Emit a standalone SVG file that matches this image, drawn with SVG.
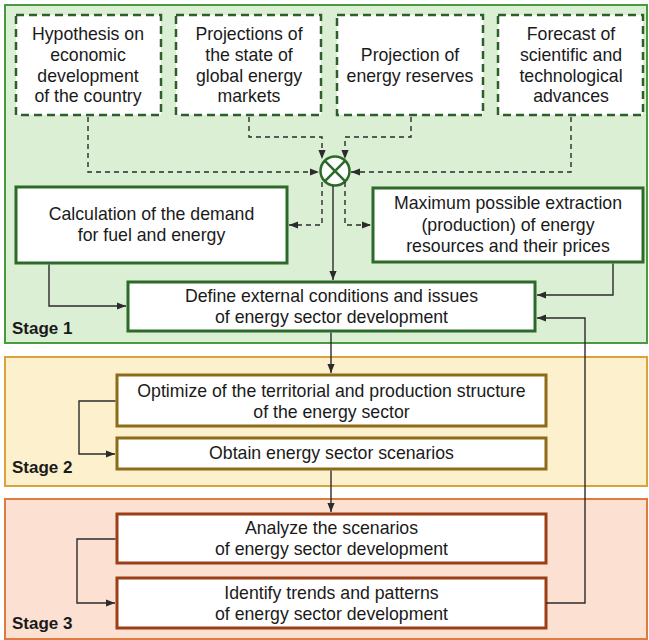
<svg xmlns="http://www.w3.org/2000/svg" width="649" height="640" viewBox="0 0 649 640">
  <defs>
    <marker id="arr" viewBox="0 0 10 10" refX="10" refY="5" markerWidth="9" markerHeight="9" markerUnits="userSpaceOnUse" orient="auto">
      <path d="M0,1 L10,5 L0,9 z" fill="#2b2b2b"/>
    </marker>
    <style>
      text { font-family: "Liberation Sans", Arial, sans-serif; font-size: 17.7px; fill: #1a1a1a; text-anchor: middle; }
      .stage { font-weight: bold; text-anchor: start; font-size: 17px; }
      .g-in { stroke: #2c5f29; stroke-width: 2.5; stroke-dasharray: 8 5; fill: #ffffff; }
      .g-box { stroke: #2c6a29; stroke-width: 3; fill: #ffffff; }
      .y-box { stroke: #8d6b18; stroke-width: 3; fill: #ffffff; }
      .o-box { stroke: #9c3f16; stroke-width: 3; fill: #ffffff; }
      .line { fill: none; stroke: #2b2b2b; stroke-width: 1.4; }
      .dash { fill: none; stroke: #2b2b2b; stroke-width: 1.4; stroke-dasharray: 5 4; }
    </style>
  </defs>

  <!-- stage panels -->
  <g id="stage1">
    <rect x="5" y="5" width="642" height="338" fill="#dbefd4" stroke="#4a9a40" stroke-width="2"/>
    <text class="stage" x="12" y="334">Stage 1</text>
  </g>
  <g id="stage2">
    <rect x="5" y="357" width="642" height="129" fill="#fdf1cd" stroke="#d9a33a" stroke-width="2"/>
    <text class="stage" x="12" y="473">Stage 2</text>
  </g>
  <g id="stage3">
    <rect x="5" y="499" width="642" height="140" fill="#fce1d3" stroke="#e07b40" stroke-width="2"/>
    <text class="stage" x="12" y="629">Stage 3</text>
  </g>

  <!-- input forecasts -->
  <g id="hypothesis">
    <rect class="g-in" x="16" y="15" width="145" height="100"/>
    <text x="88" y="40">Hypothesis on</text>
    <text x="88" y="61">economic</text>
    <text x="88" y="81.5">development</text>
    <text x="88" y="102">of the country</text>
  </g>
  <g id="markets">
    <rect class="g-in" x="176" y="15" width="145" height="100"/>
    <text x="249" y="40">Projections of</text>
    <text x="249" y="61">the state of</text>
    <text x="249" y="81.5">global energy</text>
    <text x="249" y="102">markets</text>
  </g>
  <g id="reserves">
    <rect class="g-in" x="337" y="15" width="146" height="100"/>
    <text x="410" y="61">Projection of</text>
    <text x="410" y="81.5">energy reserves</text>
  </g>
  <g id="advances">
    <rect class="g-in" x="498" y="15" width="145" height="100"/>
    <text x="571" y="40">Forecast of</text>
    <text x="571" y="61">scientific and</text>
    <text x="571" y="81.5">technological</text>
    <text x="571" y="102">advances</text>
  </g>

  <!-- summing junction -->
  <g id="junction">
    <circle cx="335" cy="171" r="14.5" fill="#ffffff" stroke="#2c6a29" stroke-width="2.5"/>
    <path d="M324.7,160.7 L345.3,181.3 M345.3,160.7 L324.7,181.3" stroke="#2c6a29" stroke-width="2.5"/>
  </g>

  <g id="demand">
    <rect class="g-box" x="16" y="187" width="271" height="76"/>
    <text x="151.5" y="220">Calculation of the demand</text>
    <text x="151.5" y="241">for fuel and energy</text>
  </g>
  <g id="extraction">
    <rect class="g-box" x="373" y="188" width="270" height="74"/>
    <text x="508" y="209">Maximum possible extraction</text>
    <text x="508" y="230.5">(production) of energy</text>
    <text x="508" y="252">resources and their prices</text>
  </g>
  <g id="define">
    <rect class="g-box" x="128" y="282" width="407" height="49"/>
    <text x="331.5" y="301.5">Define external conditions and issues</text>
    <text x="331.5" y="323">of energy sector development</text>
  </g>

  <g id="optimize">
    <rect class="y-box" x="117" y="375" width="429" height="51"/>
    <text x="331.5" y="396.5">Optimize of the territorial and production structure</text>
    <text x="331.5" y="417.5">of the energy sector</text>
  </g>
  <g id="scenarios">
    <rect class="y-box" x="117" y="438" width="429" height="31"/>
    <text x="331.5" y="459">Obtain energy sector scenarios</text>
  </g>

  <g id="analyze">
    <rect class="o-box" x="117" y="514" width="429" height="49"/>
    <text x="331.5" y="534">Analyze the scenarios</text>
    <text x="331.5" y="555">of energy sector development</text>
  </g>
  <g id="identify">
    <rect class="o-box" x="117" y="578" width="429" height="50"/>
    <text x="331.5" y="598.5">Identify trends and patterns</text>
    <text x="331.5" y="620">of energy sector development</text>
  </g>

  <!-- connectors -->
  <g id="connectors">
    <path class="dash" d="M88,117 V172 H319" marker-end="url(#arr)"/>
    <path class="dash" d="M249,117 V137 H322 V159" marker-end="url(#arr)"/>
    <path class="dash" d="M411,117 V137 H345 V159" marker-end="url(#arr)"/>
    <path class="dash" d="M571,117 V172 H351" marker-end="url(#arr)"/>
    <path class="dash" d="M322,182 V225 H289" marker-end="url(#arr)"/>
    <path class="dash" d="M345,182 V225 H371" marker-end="url(#arr)"/>
    <path class="line" d="M333,186 V280" marker-end="url(#arr)"/>
    <path class="line" d="M49,264.5 V306 H126" marker-end="url(#arr)"/>
    <path class="line" d="M613,263.5 V295 H537" marker-end="url(#arr)"/>
    <path class="line" d="M546,603 H585 V318 H537" marker-end="url(#arr)"/>
    <path class="line" d="M331,332.5 V373" marker-end="url(#arr)"/>
    <path class="line" d="M115.5,401 H79 V454 H115" marker-end="url(#arr)"/>
    <path class="line" d="M331,470.5 V512" marker-end="url(#arr)"/>
    <path class="line" d="M115.5,539 H77 V603 H115" marker-end="url(#arr)"/>
  </g>
</svg>
